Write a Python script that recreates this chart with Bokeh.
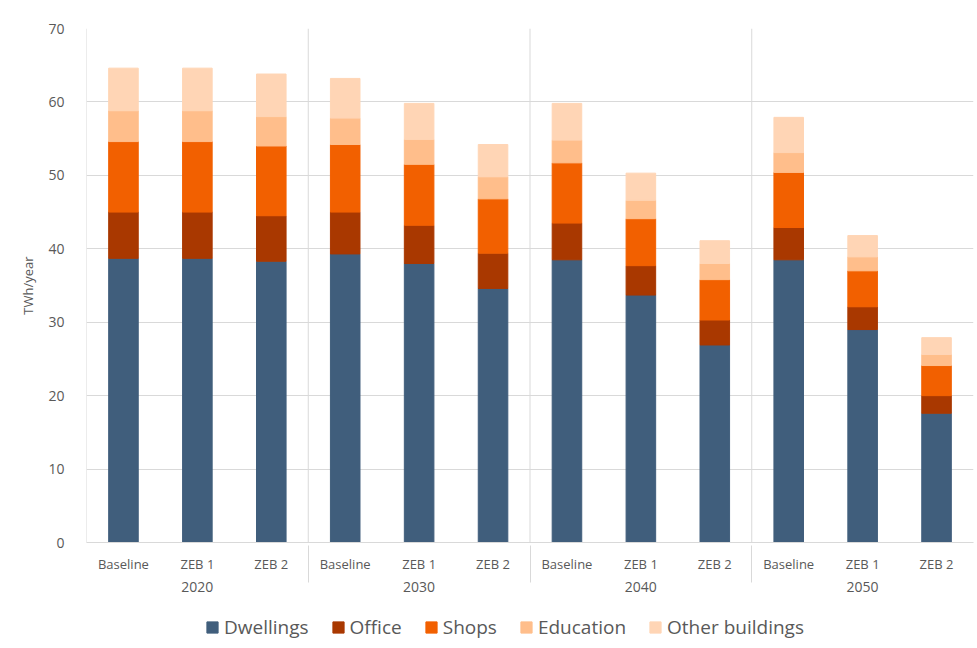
from bokeh.plotting import figure
from bokeh.layouts import column
from bokeh.models import FactorRange, Span, Legend, LegendItem, FixedTicker, Range1d, ColumnDataSource
from bokeh.embed import file_html
from bokeh.resources import INLINE

years = ["2020", "2030", "2040", "2050"]
scenarios = ["Baseline", "ZEB 1", "ZEB 2"]
dwellings = [38.7, 38.7, 38.3, 39.3, 38.0, 34.6, 38.5, 33.7, 26.9, 38.5, 29.0, 17.6]
office = [6.3, 6.3, 6.2, 5.7, 5.2, 4.8, 5.0, 4.0, 3.4, 4.4, 3.1, 2.4]
shops = [9.6, 9.6, 9.5, 9.2, 8.3, 7.4, 8.2, 6.4, 5.5, 7.5, 4.9, 4.1]
education = [4.2, 4.2, 4.0, 3.6, 3.4, 3.0, 3.1, 2.5, 2.2, 2.7, 1.9, 1.5]
other = [5.8, 5.8, 5.8, 5.4, 4.9, 4.4, 5.0, 3.7, 3.1, 4.8, 2.9, 2.3]
series = ["Dwellings", "Office", "Shops", "Education", "Other buildings"]
colors = ["#405E7C", "#A93800", "#F26000", "#FFBE8B", "#FFD5B5"]
y_ticks = [0, 10, 20, 30, 40, 50, 60, 70]

FONT = "Open Sans"
TXT = "#595959"
GRID = "#d9d9d9"

factors = [(y, s) for y in years for s in scenarios]
source = ColumnDataSource(dict(x=factors, Dwellings=dwellings, Office=office, Shops=shops,
                               Education=education, **{"Other buildings": other}))

p = figure(x_range=FactorRange(*factors, factor_padding=0, group_padding=0, range_padding=0),
           y_range=Range1d(0, 70), width=975, height=606,
           output_backend="svg", toolbar_location=None,
           min_border_left=86, min_border_top=28, min_border_right=2, min_border_bottom=64)

rs = p.vbar_stack(series, x="x", width=0.4, source=source, color=colors)

# group separators in plot area
n = len(scenarios)
for i in range(0, len(years)):
    p.add_layout(Span(location=n * i, dimension="height", line_color=GRID, line_width=1))

p.outline_line_color = None
p.xgrid.grid_line_color = None
p.ygrid.grid_line_color = GRID
p.ygrid.ticker = FixedTicker(ticks=y_ticks)

p.yaxis.ticker = FixedTicker(ticks=y_ticks)
p.yaxis.axis_line_color = None
p.yaxis.major_tick_line_color = None
p.yaxis.minor_tick_line_color = None
p.yaxis.major_label_text_font = FONT
p.yaxis.major_label_text_font_size = "14px"
p.yaxis.major_label_text_color = TXT
p.yaxis.major_label_standoff = 16
p.yaxis.axis_label = "TWh/year"
p.yaxis.axis_label_text_font = FONT
p.yaxis.axis_label_text_font_size = "13px"
p.yaxis.axis_label_text_font_style = "normal"
p.yaxis.axis_label_text_color = TXT
p.yaxis.axis_label_standoff = 8

p.xaxis.axis_line_color = GRID
p.xaxis.major_tick_line_color = None
p.xaxis.minor_tick_line_color = None
p.xaxis.major_label_text_font = FONT
p.xaxis.major_label_text_font_size = "13px"
p.xaxis.major_label_text_color = TXT
p.xaxis.major_label_standoff = 6
p.xaxis.group_text_font = FONT
p.xaxis.group_text_font_size = "14px"
p.xaxis.group_text_font_style = "normal"
p.xaxis.group_text_color = TXT
p.xaxis.separator_line_color = GRID
p.xaxis.separator_line_width = 1

# legend strip below the chart (swatches come from off-screen, zero-height placeholder bars)
q = figure(width=975, height=42, x_range=Range1d(0, 1), y_range=Range1d(0, 1),
           output_backend="svg", toolbar_location=None,
           x_axis_location=None, y_axis_location=None, min_border=0)
q.outline_line_color = None
q.xgrid.visible = False
q.ygrid.visible = False
dummies = [q.vbar(x=[-10], top=[0], bottom=[0], width=0.1, color=c) for c in colors]

legend = Legend(items=[LegendItem(label=s, renderers=[r]) for s, r in zip(series, dummies)],
                orientation="horizontal", location=(119, 8))
legend.label_text_font = FONT
legend.label_text_font_size = "19px"
legend.label_text_color = TXT
legend.glyph_width = 14
legend.glyph_height = 14
legend.label_standoff = 5
legend.spacing = 22
legend.border_line_color = None
legend.background_fill_alpha = 0
legend.padding = 0
legend.margin = 0
q.add_layout(legend, "center")

layout = column(p, q, spacing=0)
open("out.html", "w").write(file_html(layout, INLINE))
